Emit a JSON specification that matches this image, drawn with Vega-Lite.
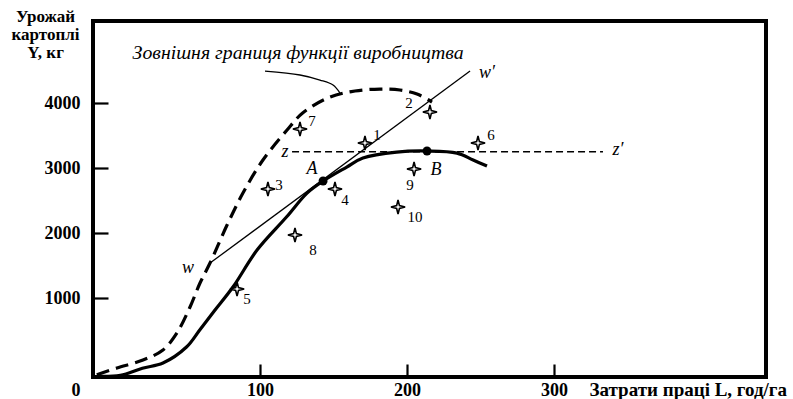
{
  "$schema": "https://vega.github.io/schema/vega-lite/v6.json",
  "width": 673,
  "height": 356,
  "autosize": {"type": "none"},
  "padding": {"left": 93, "top": 21, "right": 27, "bottom": 22},
  "background": "white",
  "config": {
    "view": {"stroke": "black", "strokeWidth": 4},
    "axis": {
      "grid": false,
      "domain": false,
      "labelColor": "black",
      "labelFont": "Liberation Serif",
      "labelFontWeight": "bold",
      "labelFontSize": 18,
      "titleColor": "black",
      "titleFont": "Liberation Serif",
      "titleFontWeight": "bold",
      "titleFontSize": 18,
      "tickColor": "black",
      "tickWidth": 2.2
    }
  },
  "datasets": {
    "frontier": [
      {"L": -11, "Y": -180}, {"L": 2.7, "Y": -77}, {"L": 20.4, "Y": 46},
      {"L": 34, "Y": 200}, {"L": 43.5, "Y": 462}, {"L": 52.4, "Y": 862},
      {"L": 59.2, "Y": 1231}, {"L": 66, "Y": 1538}, {"L": 77.6, "Y": 2123},
      {"L": 88.4, "Y": 2615}, {"L": 102, "Y": 3123}, {"L": 118.4, "Y": 3585},
      {"L": 129, "Y": 3846}, {"L": 147.6, "Y": 4092}, {"L": 164.6, "Y": 4185},
      {"L": 181.6, "Y": 4215}, {"L": 195.2, "Y": 4200}, {"L": 206.8, "Y": 4138},
      {"L": 217, "Y": 4015}
    ],
    "production": [
      {"L": -11, "Y": -205}, {"L": 5, "Y": -190}, {"L": 20, "Y": -80},
      {"L": 34, "Y": 0}, {"L": 50, "Y": 246}, {"L": 59, "Y": 508},
      {"L": 69.4, "Y": 815}, {"L": 81.6, "Y": 1169}, {"L": 98, "Y": 1738},
      {"L": 118, "Y": 2246}, {"L": 132, "Y": 2615}, {"L": 142.9, "Y": 2800},
      {"L": 159, "Y": 3015}, {"L": 170, "Y": 3154}, {"L": 193, "Y": 3246},
      {"L": 213.6, "Y": 3262}, {"L": 234, "Y": 3230}, {"L": 245, "Y": 3123},
      {"L": 254.4, "Y": 3030}
    ],
    "ray": [{"L": 66, "Y": 1538}, {"L": 242.9, "Y": 4492}],
    "level": [{"L": 121.8, "Y": 3250}, {"L": 333.3, "Y": 3250}],
    "leader": [
      {"L": 103.4, "Y": 4492}, {"L": 127.2, "Y": 4431}, {"L": 140.8, "Y": 4354},
      {"L": 149.7, "Y": 4277}, {"L": 154.4, "Y": 4154}
    ],
    "farms": [
      {"farm": 1, "L": 171.4, "Y": 3385}, {"farm": 2, "L": 215.6, "Y": 3862},
      {"farm": 3, "L": 105.4, "Y": 2677}, {"farm": 4, "L": 151, "Y": 2677},
      {"farm": 5, "L": 84.4, "Y": 1138}, {"farm": 6, "L": 248.3, "Y": 3385},
      {"farm": 7, "L": 127.2, "Y": 3600}, {"farm": 8, "L": 123.8, "Y": 1969},
      {"farm": 9, "L": 204.8, "Y": 2985}, {"farm": 10, "L": 193.9, "Y": 2400}
    ],
    "optima": [{"name": "A", "L": 142.9, "Y": 2800}, {"name": "B", "L": 213.6, "Y": 3262}],
    "farmLabels": [
      {"label": "1", "L": 179.6, "Y": 3508}, {"label": "2", "L": 201.4, "Y": 4000},
      {"label": "3", "L": 112.9, "Y": 2738}, {"label": "4", "L": 157.8, "Y": 2508},
      {"label": "5", "L": 91.2, "Y": 985}, {"label": "6", "L": 257.1, "Y": 3508},
      {"label": "7", "L": 135.4, "Y": 3723}, {"label": "8", "L": 136, "Y": 1738},
      {"label": "9", "L": 202, "Y": 2738}, {"label": "10", "L": 205.4, "Y": 2246}
    ],
    "letters": [
      {"label": "A", "L": 135.4, "Y": 2985}, {"label": "B", "L": 219.7, "Y": 2969},
      {"label": "z", "L": 117, "Y": 3246}, {"label": "z′", "L": 343.5, "Y": 3277},
      {"label": "w", "L": 51, "Y": 1462}, {"label": "w′", "L": 254.4, "Y": 4462}
    ],
    "caption": [{"label": "Зовнішня границя функції виробництва", "L": 125.9, "Y": 4769}],
    "origin": [{"label": "0", "L": -25.2, "Y": -500}]
  },
  "encoding": {
    "x": {
      "field": "L",
      "type": "quantitative",
      "scale": {"domain": [-13.6, 444.2], "nice": false, "zero": false},
      "axis": {
        "values": [100, 200, 300],
        "format": "d",
        "offset": -13,
        "tickSize": 13,
        "labelPadding": 4,
        "title": "Затрати праці L, год/га",
        "titleFontSize": 19,
        "titleAnchor": "start",
        "titleAlign": "left",
        "titleBaseline": "alphabetic",
        "titleX": 496,
        "titleY": 31
      }
    },
    "y": {
      "field": "Y",
      "type": "quantitative",
      "scale": {"domain": [-215, 5262], "nice": false, "zero": false},
      "axis": {
        "values": [1000, 2000, 3000, 4000],
        "format": "d",
        "offset": -15,
        "tickSize": 15,
        "labelPadding": 13,
        "title": ["Урожай", "картоплі", "Y, кг"],
        "titleFontSize": 17,
        "titleAngle": 0,
        "titleAlign": "center",
        "titleBaseline": "alphabetic",
        "titleLineHeight": 18,
        "titleX": -63,
        "titleY": 0
      }
    }
  },
  "layer": [
    {
      "data": {"name": "frontier"},
      "mark": {"type": "line", "color": "black", "strokeWidth": 3.2, "strokeDash": [13, 7], "interpolate": "catmull-rom"}
    },
    {
      "data": {"name": "production"},
      "mark": {"type": "line", "color": "black", "strokeWidth": 3.2, "interpolate": "catmull-rom"}
    },
    {
      "data": {"name": "ray"},
      "mark": {"type": "line", "color": "black", "strokeWidth": 1.3}
    },
    {
      "data": {"name": "level"},
      "mark": {"type": "line", "color": "black", "strokeWidth": 1.6, "strokeDash": [7, 4]}
    },
    {
      "data": {"name": "leader"},
      "mark": {"type": "line", "color": "black", "strokeWidth": 1.3, "interpolate": "catmull-rom"}
    },
    {
      "data": {"name": "farms"},
      "mark": {
        "type": "point",
        "shape": "M0,-1L0.2,-0.2L1,0L0.2,0.2L0,1L-0.2,0.2L-1,0L-0.2,-0.2Z",
        "size": 200,
        "filled": true,
        "fill": "white",
        "stroke": "black",
        "strokeWidth": 1.6,
        "opacity": 1
      }
    },
    {
      "data": {"name": "optima"},
      "mark": {"type": "circle", "color": "black", "size": 80, "opacity": 1}
    },
    {
      "data": {"name": "farmLabels"},
      "mark": {"type": "text", "font": "Liberation Serif", "fontSize": 15, "color": "black", "align": "center", "baseline": "middle"},
      "encoding": {"text": {"field": "label"}}
    },
    {
      "data": {"name": "letters"},
      "mark": {"type": "text", "font": "Liberation Serif", "fontStyle": "italic", "fontSize": 18, "color": "black", "align": "center", "baseline": "middle"},
      "encoding": {"text": {"field": "label"}}
    },
    {
      "data": {"name": "caption"},
      "mark": {"type": "text", "font": "Liberation Serif", "fontStyle": "italic", "fontSize": 19.8, "color": "black", "align": "center", "baseline": "middle"},
      "encoding": {"text": {"field": "label"}}
    },
    {
      "data": {"name": "origin"},
      "mark": {"type": "text", "font": "Liberation Serif", "fontWeight": "bold", "fontSize": 18, "color": "black", "align": "center", "baseline": "alphabetic"},
      "encoding": {"text": {"field": "label"}}
    }
  ]
}
